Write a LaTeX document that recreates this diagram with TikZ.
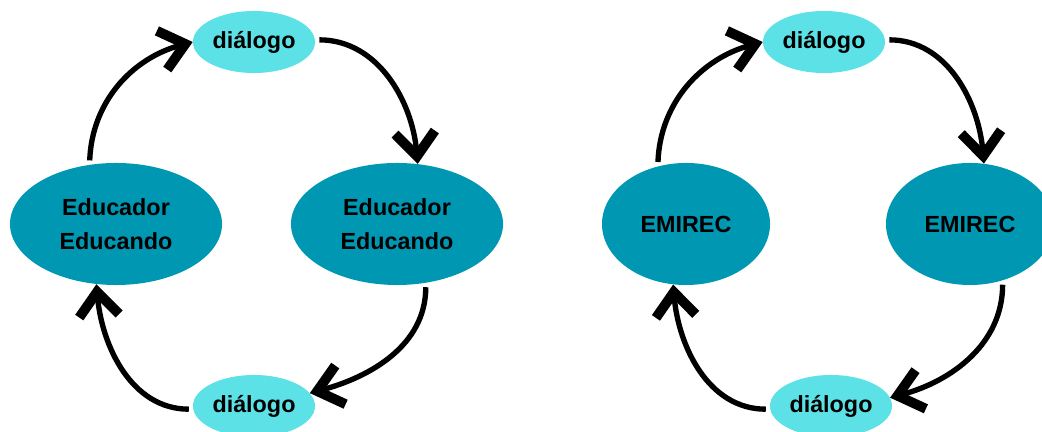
\documentclass[tikz,border=0pt]{standalone}
\usepackage{fontspec}
\setmainfont{Liberation Sans}
\usepackage{tikz}
\usetikzlibrary{arrows.meta,shapes}
\definecolor{tealdark}{HTML}{0097B2}
\definecolor{cyanlight}{HTML}{5CE1E6}
\tikzstyle{actor}=[ellipse,fill=tealdark,minimum width=5.3cm,minimum height=3.05cm,inner sep=0pt,align=center,font=\bfseries\fontsize{16.6}{24}\selectfont]
\tikzstyle{emirec}=[actor,minimum width=4.2cm]
\tikzstyle{dialog}=[ellipse,fill=cyanlight,minimum width=3.05cm,minimum height=1.55cm,inner sep=0pt,font=\bfseries\fontsize{16.6}{20}\selectfont]
\tikzstyle{edge} = [draw,line width=3.8pt,shorten <=3pt,-{Straight Barb[length=0.6cm,width=1cm,line width=7pt 0]}]

\begin{document}
\begin{tikzpicture}[x=0.025cm,y=0.025cm]
    \useasboundingbox (0,0) rectangle (1042,432);
    % Two dialogue cycles side by side
    % First we draw the ellipses
    \foreach \pos/\name/\txt in {{(116,208)/EE_1/Educador\\Educando}, {(397,208)/EE_2/Educador\\Educando}}
        \node[actor] (\name) at \pos {\txt};
    \foreach \pos/\name in {{(686,208)/EM_1}, {(970,208)/EM_2}}
        \node[emirec] (\name) at \pos {EMIREC};
    \foreach \pos/\name in {{(254,390)/D_1}, {(254,26)/D_2}, {(824,390)/D_3}, {(831,26)/D_4}}
        \node[dialog] (\name) at \pos {diálogo};
    
    % Connect ellipses with curved arrows
    \foreach \source/\sa/\dest/\da/\o/\i in {EE_1/114/D_1/180/88/195, D_1/2/EE_2/71/0/95, EE_2/296/D_2/13/270/15, D_2/183/EE_1/252/180/275,
                                           EM_1/116/D_3/180/88/195, D_3/2/EM_2/77/0/95, EM_2/300/D_4/8/270/15, D_4/183/EM_1/258/180/275}
        \path[edge] (\source.\sa) to[out=\o,in=\i] (\dest.\da);
        
\end{tikzpicture}
\end{document}
